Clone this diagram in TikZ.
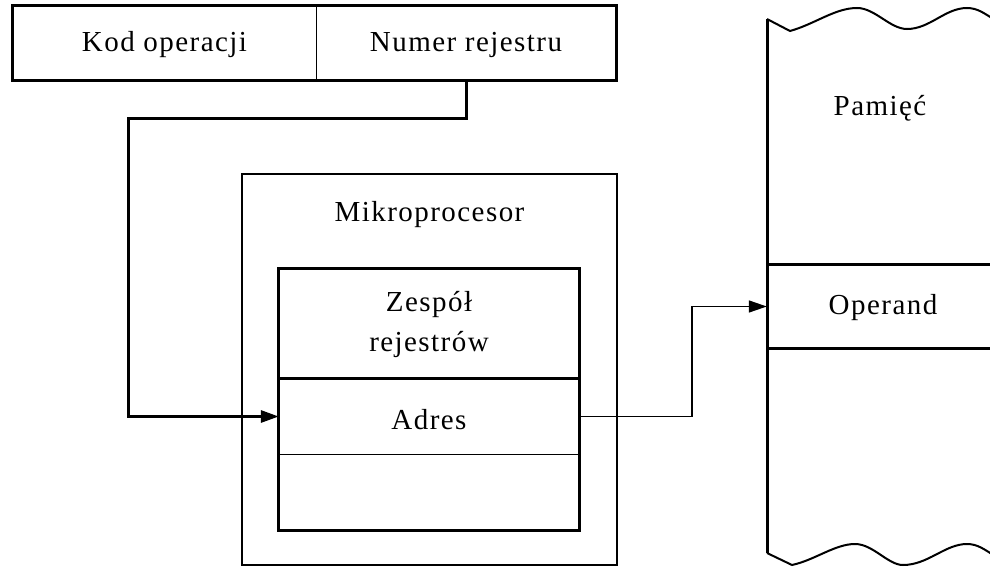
\documentclass[tikz,border=0pt]{standalone}
\usepackage{fontspec}
\setmainfont{Liberation Serif}[LetterSpace=5]
\usetikzlibrary{arrows.meta,calc}
\begin{document}
\begin{tikzpicture}[x=1pt,y=-1pt,
  every node/.style={font=\fontsize{29}{40}\selectfont, inner sep=0pt},
  cell/.style={rectangle, minimum width=#1},
  heavy/.style={line width=3pt},
  medium/.style={line width=2.2pt},
  light/.style={line width=1.4pt},
  tip/.style={-{Triangle[length=18pt,width=12pt]}},
  line join=miter]
\useasboundingbox (0,0) rectangle (990,567);

% instruction word
\node[cell=303, minimum height=74] (kod) at (164.5,43) {};
\node[cell=300, minimum height=74] (num) at (466,43) {};
\node (kodlbl) at (164.5,45) {Kod operacji};
\node (numlbl) at (466,45) {Numer rejestru};
\draw[light] (kod.north east) -- (kod.south east);
\draw[heavy] (kod.north west) rectangle (num.south east);

% microprocessor
\node[cell=375, minimum height=391, draw, medium] (mikro) at (429.5,369.5) {};
\node (mikrolbl) at (429.5,215) {Mikroprocesor};

% register file
\node[cell=300, minimum height=112, align=center] (zesp) at (429,325) {Zespół\\rejestrów};
\node[cell=300, minimum height=75] (adres) at (429,416.5) {};
\node (adreslbl) at (429,420) {Adres};
\node[cell=300, minimum height=76] (wolne) at (429,492) {};
\draw[heavy] (zesp.north west) rectangle (wolne.south east);
\draw[heavy] (zesp.south west |- adres.north) -- (zesp.south east |- adres.north);
\draw[light] (adres.south west) -- (adres.south east);

% memory
\node[cell=240, minimum height=83] (oper) at (887,306.5) {};
\node (operlbl) at (883,308) {Operand};
\node (pamlbl) at (880,108) {Pamięć};
\draw[heavy] (oper.north west) -- (oper.north east);
\draw[heavy] (oper.south west) -- (oper.south east);
\draw[heavy] (767,19) -- (767,553);
\draw[line width=2pt] (767,19) -- (790,31)
  .. controls (815,24) and (835,8) .. (857,8)
  .. controls (875,8) and (890,29) .. (907,29)
  .. controls (930,29) and (945,8) .. (967,8)
  .. controls (978,8) and (985,14) .. (995,20);
\draw[line width=2pt] (767,553) -- (792,565)
  .. controls (815,560) and (835,544) .. (855,544)
  .. controls (873,544) and (888,565) .. (903,565)
  .. controls (928,565) and (945,544) .. (967,544)
  .. controls (978,544) and (985,550) .. (995,556);

% connectors
\coordinate (bend1) at (128,119);
\coordinate (bend2) at (692,360);
\draw[heavy, tip] (num.south) -- (num.south |- bend1) -- (bend1) |- (adres.west);
\draw[light, tip] (adres.east) -- (adres.east -| bend2) -- (bend2 |- oper.west) -- (oper.west);
\end{tikzpicture}
\end{document}
